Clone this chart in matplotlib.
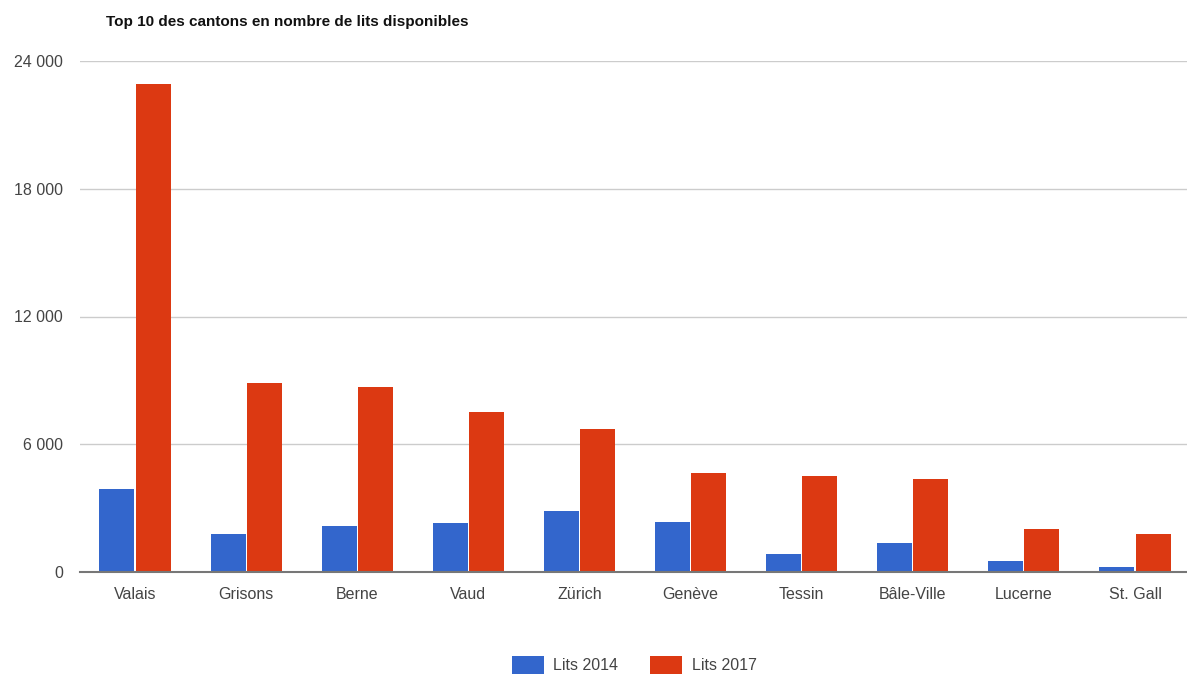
import matplotlib.pyplot as plt
import numpy as np

plt.rcParams['font.family'] = ['Liberation Sans', 'DejaVu Sans']

cantons = ['Valais', 'Grisons', 'Berne', 'Vaud', 'Zürich', 'Genève',
           'Tessin', 'Bâle-Ville', 'Lucerne', 'St. Gall']
lits_2014 = [3880, 1800, 2180, 2300, 2865, 2335, 865, 1360, 500, 235]
lits_2017 = [22900, 8880, 8690, 7520, 6720, 4670, 4530, 4390, 2005, 1800]
y_ticks = [0, 6000, 12000, 18000, 24000]

fig = plt.figure(figsize=(11.87, 6.75), dpi=100)
ax = fig.add_axes([79.5 / 1187, 103 / 675, 1111 / 1187, 511 / 675])

x = np.arange(len(cantons))
w = 0.315
ax.bar(x - w / 2 - 0.005, lits_2014, w, color='#3366CC', label='Lits 2014', zorder=3)
ax.bar(x + w / 2 + 0.005, lits_2017, w, color='#DC3912', label='Lits 2017', zorder=3)

ax.set_xlim(-0.5, 9.5)
ax.set_ylim(0, 24000)
ax.set_yticks(y_ticks)
ax.set_yticklabels([f'{v:,}'.replace(',', ' ') for v in y_ticks])
ax.set_xticks(x)
ax.set_xticklabels(cantons)
ax.tick_params(axis='both', length=0, labelsize=11.5, labelcolor='#444444')
ax.tick_params(axis='y', pad=12)
ax.tick_params(axis='x', pad=11)

ax.grid(axis='y', color='#cccccc', linewidth=1, zorder=0)
for s in ['top', 'right', 'left']:
    ax.spines[s].set_visible(False)
ax.spines['bottom'].set_color('#777777')
ax.spines['bottom'].set_linewidth(1.5)
ax.spines['bottom'].set_zorder(4)

fig.text(106 / 1187, 1 - 22 / 675, 'Top 10 des cantons en nombre de lits disponibles',
         fontsize=11, fontweight='bold', va='center', ha='left', color='#111111')

fig.legend(loc='center', bbox_to_anchor=(634 / 1187, 1 - 665 / 675), ncol=2, frameon=False,
           fontsize=11.5, handlelength=2.0, handleheight=1.4, columnspacing=2.0,
           handletextpad=0.6, labelcolor='#444444')

fig.savefig('out.png', dpi=100)
